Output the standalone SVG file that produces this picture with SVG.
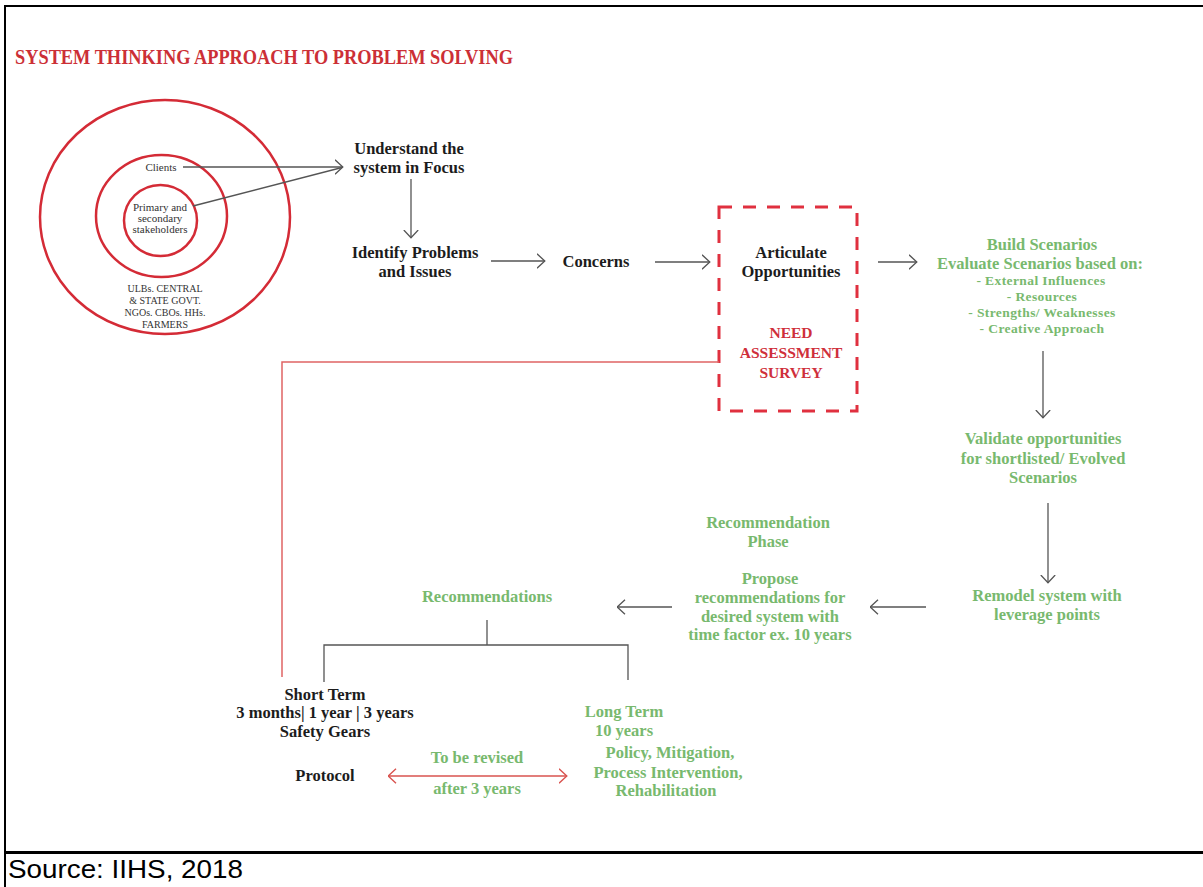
<svg xmlns="http://www.w3.org/2000/svg" width="1203" height="887" viewBox="0 0 1203 887">
<defs>
<style>
.blk{font-family:"Liberation Serif","Times New Roman",serif;font-weight:bold;font-size:16.5px;fill:#1c1c1c;text-anchor:middle}
.grn{font-family:"Liberation Serif","Times New Roman",serif;font-weight:bold;font-size:16.5px;fill:#78b96e;text-anchor:middle}
.gsm{font-family:"Liberation Serif","Times New Roman",serif;font-weight:bold;font-size:13.5px;fill:#78b96e;text-anchor:middle;letter-spacing:0.4px}
.red{font-family:"Liberation Serif","Times New Roman",serif;font-weight:bold;font-size:15.5px;fill:#cf2f3b;text-anchor:middle}
.sm{font-family:"Liberation Serif","Times New Roman",serif;font-size:11px;fill:#333;text-anchor:middle}
.xs{font-family:"Liberation Serif","Times New Roman",serif;font-size:10px;fill:#333;text-anchor:middle}
.ring{fill:none;stroke:#d42b36;stroke-width:2.5}
.arr{fill:none;stroke:#555;stroke-width:1.3;marker-end:url(#chev)}
.ln{fill:none;stroke:#555;stroke-width:1.3}
.frame{stroke:#000;fill:none}
</style>
<marker id="chev" markerUnits="userSpaceOnUse" viewBox="0 0 9 16" markerWidth="9" markerHeight="16" refX="8.5" refY="8" orient="auto">
<path d="M0.5,0.8 L8.3,8 L0.5,15.2" fill="none" stroke="#555" stroke-width="1.3"/>
</marker>
<marker id="rchev" markerUnits="userSpaceOnUse" viewBox="0 0 9 16" markerWidth="9" markerHeight="16" refX="8.5" refY="8" orient="auto-start-reverse">
<path d="M0.5,0.8 L8.3,8 L0.5,15.2" fill="none" stroke="#d9534f" stroke-width="1.4"/>
</marker>
</defs>
<rect width="1203" height="887" fill="#fff"/>
<g id="frame">
<line class="frame" x1="5" y1="6" x2="1203" y2="6" stroke-width="2"/>
<line class="frame" x1="5" y1="5" x2="5" y2="887" stroke-width="2"/>
<line class="frame" x1="5" y1="852.5" x2="1203" y2="852.5" stroke-width="3"/>
</g>
<g id="source"><text x="8" y="878" font-family="Liberation Sans, Arial, sans-serif" font-size="25" fill="#000" textLength="235" lengthAdjust="spacingAndGlyphs">Source: IIHS, 2018</text></g>
<g id="title"><text x="15" y="64" font-family="Liberation Serif, Times New Roman, serif" font-weight="bold" font-size="21" fill="#cc2f36" textLength="498" lengthAdjust="spacingAndGlyphs">SYSTEM THINKING APPROACH TO PROBLEM SOLVING</text></g>
<g id="stakeholder-circles">
<ellipse class="ring" cx="165" cy="217" rx="125" ry="117"/>
<ellipse class="ring" cx="161.5" cy="216" rx="65.5" ry="61"/>
<ellipse class="ring" cx="160.5" cy="220.5" rx="36.5" ry="35.5"/>
<text class="sm" x="161" y="171" font-size="10">Clients</text>
<text class="sm" x="160" y="211">Primary and</text>
<text class="sm" x="160" y="222">secondary</text>
<text class="sm" x="160" y="233">stakeholders</text>
<text class="xs" x="165" y="292">ULBs. CENTRAL</text>
<text class="xs" x="165" y="304">&amp; STATE GOVT.</text>
<text class="xs" x="165" y="316">NGOs. CBOs. HHs.</text>
<text class="xs" x="165" y="328">FARMERS</text>
</g>
<g id="understand"><text class="blk" x="409" y="154">Understand the</text><text class="blk" x="409" y="173">system in Focus</text></g>
<g id="identify"><text class="blk" x="415" y="258">Identify Problems</text><text class="blk" x="415" y="277">and Issues</text></g>
<g id="concerns"><text class="blk" x="596" y="267">Concerns</text></g>
<g id="articulate">
<rect x="719" y="207" width="138" height="204" fill="none" stroke="#e0303f" stroke-width="3" stroke-dasharray="13 11"/>
<text class="blk" x="791" y="258">Articulate</text><text class="blk" x="791" y="277">Opportunities</text>
<text class="red" x="791" y="338">NEED</text><text class="red" x="791" y="358">ASSESSMENT</text><text class="red" x="791" y="378">SURVEY</text>
</g>
<g id="build">
<text class="grn" x="1042" y="250">Build Scenarios</text>
<text class="grn" x="1040" y="269">Evaluate Scenarios based on:</text>
<text class="gsm" x="1041" y="285">- External Influences</text>
<text class="gsm" x="1042" y="301">- Resources</text>
<text class="gsm" x="1042" y="317">- Strengths/ Weaknesses</text>
<text class="gsm" x="1042" y="333">- Creative Approach</text>
</g>
<g id="validate"><text class="grn" x="1043" y="444">Validate opportunities</text><text class="grn" x="1043" y="464">for shortlisted/ Evolved</text><text class="grn" x="1043" y="483">Scenarios</text></g>
<g id="remodel"><text class="grn" x="1047" y="601">Remodel system with</text><text class="grn" x="1047" y="620">leverage points</text></g>
<g id="propose">
<text class="grn" x="768" y="528">Recommendation</text><text class="grn" x="768" y="547">Phase</text>
<text class="grn" x="770" y="584">Propose</text><text class="grn" x="770" y="603">recommendations for</text><text class="grn" x="770" y="622">desired system with</text><text class="grn" x="770" y="640">time factor ex. 10 years</text>
</g>
<g id="recommendations"><text class="grn" x="487" y="602">Recommendations</text></g>
<g id="short-term"><text class="blk" x="325" y="700">Short Term</text><text class="blk" x="325" y="718">3 months| 1 year | 3 years</text><text class="blk" x="325" y="737">Safety Gears</text></g>
<g id="protocol"><text class="blk" x="325" y="781">Protocol</text></g>
<g id="long-term"><text class="grn" x="624" y="717">Long Term</text><text class="grn" x="624" y="736">10 years</text>
<text class="grn" x="670" y="758">Policy, Mitigation,</text><text class="grn" x="668" y="778">Process Intervention,</text><text class="grn" x="666" y="796">Rehabilitation</text></g>
<g id="revise-label"><text class="grn" x="477" y="763">To be revised</text><text class="grn" x="477" y="794">after 3 years</text></g>
<g id="connectors">
<line class="arr" x1="183" y1="167" x2="343" y2="167"/>
<line class="ln" x1="193" y1="206" x2="342" y2="167.5"/>
<line class="arr" x1="411" y1="179" x2="411" y2="238"/>
<line class="arr" x1="491" y1="261" x2="545" y2="261"/>
<line class="arr" x1="655" y1="262" x2="710" y2="262"/>
<line class="arr" x1="878" y1="262" x2="917" y2="262"/>
<line class="arr" x1="1043" y1="351" x2="1043" y2="418"/>
<line class="arr" x1="1048" y1="503" x2="1048" y2="583"/>
<line class="arr" x1="926" y1="607" x2="870" y2="607"/>
<line class="arr" x1="672" y1="607" x2="617" y2="607"/>
<polyline class="ln" points="487,620 487,645"/>
<polyline class="ln" points="324,682 324,645 628,645 628,680"/>
<polyline points="719,362 282,362 282,677" fill="none" stroke="#e06464" stroke-width="1.5"/>
<line x1="388" y1="776" x2="567" y2="776" stroke="#d9534f" stroke-width="1.5" marker-start="url(#rchev)" marker-end="url(#rchev)"/>
</g>
</svg>
